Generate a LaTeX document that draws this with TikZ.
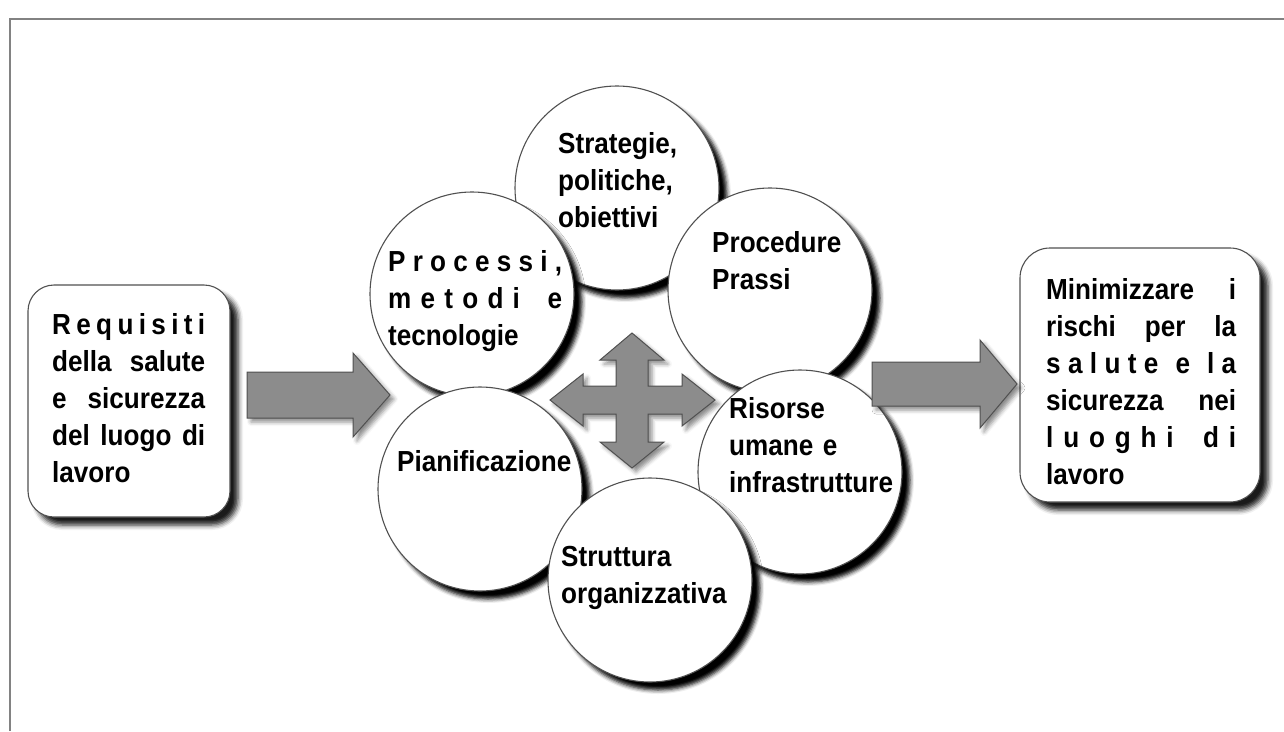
\documentclass[tikz,border=0pt]{standalone}
\usepackage{fontspec}
\setmainfont{Liberation Sans}[FakeStretch=0.9]
\usetikzlibrary{shadows.blur}

\definecolor{framegray}{RGB}{130,130,130}
\definecolor{arrowgray}{RGB}{140,140,140}
\definecolor{edgegray}{RGB}{80,80,80}

\begin{document}
\begin{tikzpicture}[
        x=1pt, y=-1pt,
        every node/.style={font=\bfseries\fontsize{29}{37}\selectfont},
        bubble/.style={circle, draw=edgegray, line width=1.1pt, fill=white, minimum size=204pt, inner sep=0pt,
            blur shadow={shadow xshift=8pt, shadow yshift=-8pt, shadow blur radius=4pt, shadow opacity=100}},
        card/.style={rectangle, rounded corners=26pt, draw=edgegray, line width=1.1pt, fill=white, inner sep=0pt,
            blur shadow={shadow xshift=8pt, shadow yshift=-8pt, shadow blur radius=5pt, shadow opacity=90}},
        txt/.style={anchor=base west, inner sep=0pt, align=left, text width=200pt},
        bigarrow/.style={draw=edgegray, line width=1pt, fill=arrowgray, line join=miter,
            blur shadow={shadow xshift=4pt, shadow yshift=-4pt, shadow blur radius=4pt, shadow opacity=45}}
    ]
    \useasboundingbox (0,0) rectangle (1284,731);

    % frame
    \draw [framegray, line width=1.5pt] (10,731) -- (10,19) -- (1284,19);

    % Boxes
    \node (req) [card, minimum width=202pt, minimum height=232pt] at (129,401) {};
    \node (goal) [card, minimum width=240pt, minimum height=254pt, rounded corners=30pt] at (1140,375) {};

    \node (req-txt) [txt, text width=153pt] at (52,334) {%
        \makebox[\linewidth][s]{R\hfil e\hfil q\hfil u\hfil i\hfil s\hfil i\hfil t\hfil i}\\
        \makebox[\linewidth][s]{della\hfil salute}\\
        \makebox[\linewidth][s]{e\hfil sicurezza}\\
        \makebox[\linewidth][s]{del\hfil luogo\hfil di}\\
        lavoro};
    \node (goal-txt) [txt, text width=190pt] at (1046,299) {%
        \makebox[\linewidth][s]{Minimizzare\hfil i}\\
        \makebox[\linewidth][s]{rischi\hfil per\hfil la}\\
        \makebox[\linewidth][s]{s\hfil a\hfil l\hfil u\hfil t\hfil e\hfil\ e\hfil\ l\hfil a}\\
        \makebox[\linewidth][s]{sicurezza\hfil nei}\\
        \makebox[\linewidth][s]{l\hfil u\hfil o\hfil g\hfil h\hfil i\hfil\hfil\hfil d\hfil i}\\
        lavoro};

    % Circles
    \node (strat) [bubble] at (617,188) {};
    \node (proc) [bubble] at (472,294) {};
    \node (prass) [bubble] at (770,290) {};
    \node (plan) [bubble] at (480,489) {};
    \node (ris) [bubble] at (800,472) {};
    \node (org) [bubble] at (650,580) {};

    \node (strat-txt) [txt] at (558,153) {Strategie,\\politiche,\\obiettivi};
    \node (proc-txt) [txt, text width=174pt] at (388,271) {%
        \makebox[\linewidth][s]{P\hfil r\hfil o\hfil c\hfil e\hfil s\hfil s\hfil i\hfil ,}\\
        \makebox[\linewidth][s]{m\hfil e\hfil t\hfil o\hfil d\hfil i\hfil\hfil\hfil e}\\
        tecnologie};
    \node (prass-txt) [txt] at (712,252) {Procedure\\Prassi};
    \node (plan-txt) [txt] at (397,471) {Pianificazione};
    \node (ris-txt) [txt] at (729,418) {Risorse\\umane e\\infrastrutture};
    \node (org-txt) [txt] at (561,566) {Struttura\\organizzativa};

    % Arrows
    \coordinate (in-arrow) at (247,395);
    \coordinate (out-arrow) at (872,384);
    \coordinate (cross) at (632,400);
    \draw [bigarrow, shift={(in-arrow)}]
        (0,-23) -- (106,-23) -- (106,-42) -- (143,0) -- (106,42) -- (106,23) -- (0,23) -- cycle;
    \draw [bigarrow, shift={(out-arrow)}]
        (0,-22) -- (108,-22) -- (108,-44) -- (145,0) -- (108,44) -- (108,22) -- (0,22) -- cycle;
    \draw [bigarrow, shift={(cross)}]
        (0,-67) -- (32,-40) -- (16,-40) -- (16,-14) -- (50,-14) -- (50,-26) -- (83,0)
        -- (50,26) -- (50,14) -- (16,14) -- (16,42) -- (32,42) -- (0,68) -- (-32,42)
        -- (-16,42) -- (-16,14) -- (-49,14) -- (-49,26) -- (-82,0) -- (-49,-26)
        -- (-49,-14) -- (-16,-14) -- (-16,-40) -- (-32,-40) -- cycle;

\end{tikzpicture}
\end{document}
